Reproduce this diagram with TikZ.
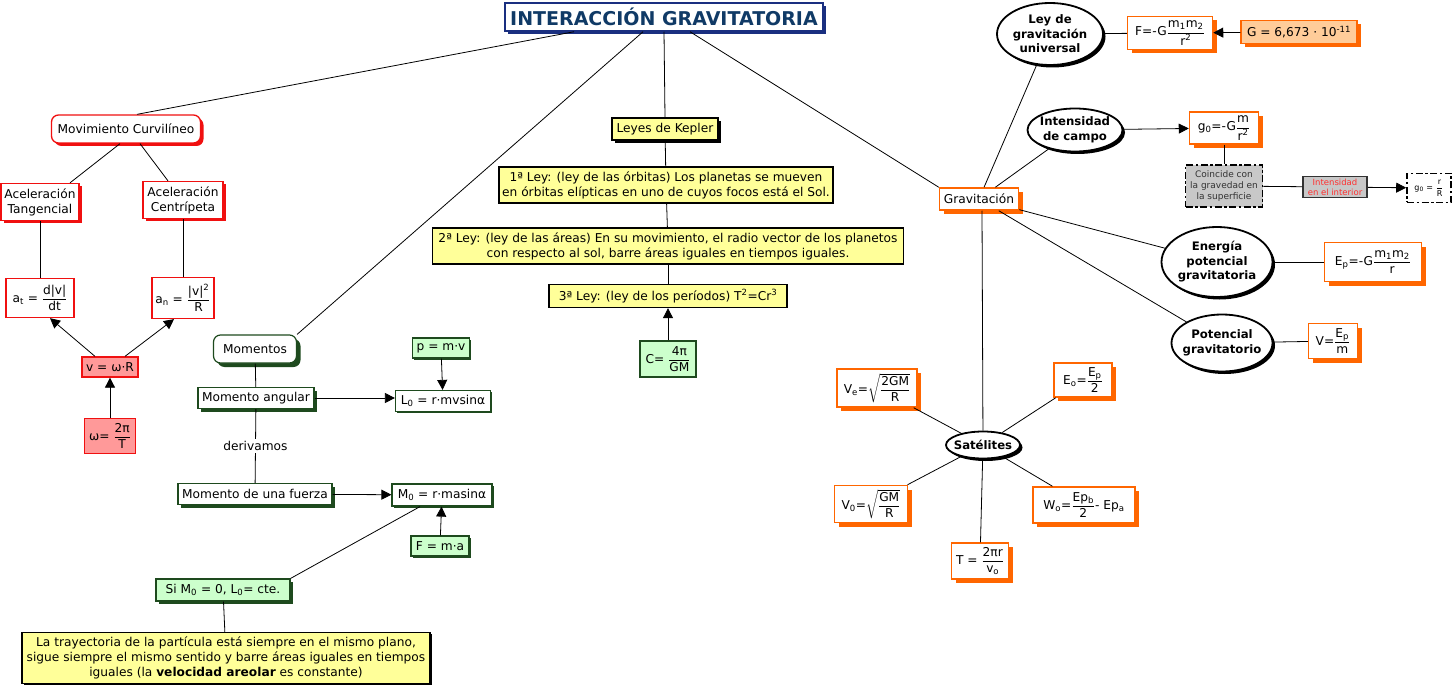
\documentclass[tikz,border=0pt]{standalone}
\usepackage{amsmath}
\usepackage{fontspec}
\setmainfont{DejaVu Sans}
\usetikzlibrary{shapes.geometric,shadows,arrows.meta}
\definecolor{cred}{HTML}{F01010}
\definecolor{cpink}{HTML}{FF9999}
\definecolor{cdgreen}{HTML}{1E4A1E}
\definecolor{clgreen}{HTML}{CCFFCC}
\definecolor{cyellow}{HTML}{FFFF99}
\definecolor{corange}{HTML}{FF6600}
\definecolor{clorange}{HTML}{FFCC99}
\definecolor{cnavy}{HTML}{1A2F80}
\definecolor{ctitle}{HTML}{103A66}
\definecolor{cgray}{HTML}{C8C8C8}
\definecolor{ctxtgray}{HTML}{333333}
\definecolor{cred2}{HTML}{FF3030}
\newcommand{\fr}[2]{$\dfrac{\text{#1}}{\text{#2}}$}
\begin{document}
\begin{tikzpicture}[x=1pt,y=-1pt,
  every node/.style={font=\fontsize{12.2}{15}\selectfont, align=center, inner sep=1pt},
  conn/.style={line width=0.8pt, draw=black},
  arr/.style={conn, -{Triangle[length=10pt,width=10pt]}},
  shd/.style 2 args={drop shadow={shadow xshift=#2,shadow yshift=-#2,fill=#1,opacity=1}},
  sz/.style 2 args={minimum width=#1pt,minimum height=#2pt},
  redbox/.style={draw=cred, line width=1.3pt, fill=white},
  pinkbox/.style={redbox, fill=cpink},
  grnbox/.style={draw=cdgreen, line width=1.2pt, fill=white},
  lgrnbox/.style={grnbox, fill=clgreen},
  ylwbox/.style={draw=black, line width=1.3pt, fill=cyellow},
  orbox/.style={draw=corange, line width=1.5pt, fill=white, shd={corange}{4pt}},
  ell/.style={ellipse, draw=black, line width=1.8pt, fill=white, inner sep=0pt, shd={black}{2.5pt}, font=\bfseries\fontsize{11.7}{14.5}\selectfont},
  dashdot/.style={draw=black, line width=1.6pt, dash pattern=on 7pt off 2.5pt on 2.5pt off 2.5pt}
]
\fill[white] (0,0) rectangle (1456,687);
\useasboundingbox (0,0) rectangle (1456,687);

% title
\node[draw=cnavy, line width=1.5pt, fill=white, shd={cnavy}{3pt}, sz={318}{28}, text=ctitle, font=\bfseries\fontsize{19}{22}\selectfont] (title) at (664,17) {INTERACCIÓN GRAVITATORIA};

% left: movimiento curvilineo
\node[redbox, shd={cred}{3pt}, rounded corners=7pt, sz={149}{28}] (mc) at (126,129) {Movimiento Curvilíneo};
\node[redbox, shd={cred}{3pt}, sz={78}{37}] (at) at (40,202) {Aceleración\\Tangencial};
\node[redbox, shd={cred}{3pt}, sz={80}{37}] (ac) at (183,200) {Aceleración\\Centrípeta};
\node[redbox, sz={68}{39}] (atf) at (40,298) {a\textsubscript{t} = \fr{d|v|}{dt}};
\node[redbox, sz={62}{41}] (anf) at (183,298) {a\textsubscript{n} = \fr{|v|\textsuperscript{2}}{R}};
\node[pinkbox, sz={56}{20}] (v) at (110,367) {v = ω·R};
\node[pinkbox, sz={51}{35}] (om) at (110,436) {ω= \fr{2π}{T}};

% momentos
\node[grnbox, shd={cdgreen}{4pt}, rounded corners=7pt, sz={83}{28}] (mom) at (255,349) {Momentos};
\node[grnbox, shd={cdgreen}{3pt}, sz={116}{21}] (mang) at (256,398) {Momento angular};
\node[grnbox, shd={cdgreen}{1.5pt}, sz={95}{21}] (L0) at (443,401) {L\textsubscript{0} = r·mvsinα};
\node[lgrnbox, shd={cdgreen}{1.5pt}, sz={57}{20}] (p) at (441,348) {p = m·v};
\node[grnbox, shd={cdgreen}{3pt}, sz={154}{21}] (mfu) at (255,494) {Momento de una fuerza};
\node[grnbox, shd={cdgreen}{1.5pt}, sz={100}{22}] (M0) at (442,495) {M\textsubscript{0} = r·masinα};
\node[lgrnbox, shd={cdgreen}{1.5pt}, sz={58}{20}] (F) at (440,546) {F = m·a};
\node[lgrnbox, shd={cdgreen}{3pt}, sz={134}{22}] (sim) at (223,590) {Si M\textsubscript{0} = 0, L\textsubscript{0}= cte.};
\node[ylwbox, shd={black}{1.5pt}, sz={408}{51}] (tray) at (226,658) {La trayectoria de la partícula está siempre en el mismo plano,\\sigue siempre el mismo sentido y barre áreas iguales en tiempos\\iguales (la \textbf{velocidad areolar} es constante)};

% kepler
\node[ylwbox, shd={black}{3pt}, sz={106}{22}] (kep) at (665,129) {Leyes de Kepler};
\node[ylwbox, sz={334}{36}] (l1) at (666,185) {1ª Ley: (ley de las órbitas) Los planetas se mueven\\en órbitas elípticas en uno de cuyos focos está el Sol.};
\node[ylwbox, sz={471}{36}] (l2) at (668,246) {2ª Ley: (ley de las áreas) En su movimiento, el radio vector de los planetos\\con respecto al sol, barre áreas iguales en tiempos iguales.};
\node[ylwbox, sz={238}{23}] (l3) at (668,296) {3ª Ley: (ley de los períodos) T\textsuperscript{2}=Cr\textsuperscript{3}};
\node[lgrnbox, line width=1.4pt, sz={56}{36}] (C) at (668,359) {C= \fr{4π}{GM}};

% right: gravitacion
\node[orbox, sz={79}{22}] (grav) at (979,199) {Gravitación};
\node[ell, minimum width=106pt, minimum height=62pt] (ley) at (1050,34) {Ley de\\gravitación\\universal};
\node[orbox, sz={85}{33}] (Fg) at (1170,33) {F=-G\fr{m\textsubscript{1}m\textsubscript{2}}{r\textsuperscript{2}}};
\node[orbox, fill=clorange, sz={116}{23}] (G) at (1299,32) {G = 6,673 · 10\textsuperscript{-11}};
\node[ell, inner xsep=-4pt, minimum width=95pt, minimum height=43pt] (int) at (1075,130) {Intensidad\\de campo};
\node[orbox, sz={69}{32}] (g0) at (1224,128) {g\textsubscript{0}=-G\fr{m}{r\textsuperscript{2}}};
\node[dashdot, fill=cgray, text=ctxtgray, font=\fontsize{9}{11}\selectfont, sz={77}{42}] (coin) at (1224,186) {Coincide con\\la gravedad en\\la superficie};
\node[draw=ctxtgray, line width=1.5pt, fill=cgray, text=cred2, font=\fontsize{8.5}{10}\selectfont, sz={64}{21}] (ii) at (1335,187) {Intensidad\\en el interior};
\node[dashdot, fill=white, font=\fontsize{8}{10}\selectfont, sz={44}{29}] (g0r) at (1429,188) {g\textsubscript{0} = \fr{r}{R}};
\node[ell, inner xsep=-1pt, minimum width=111pt, minimum height=70pt] (ene) at (1217,262) {Energía\\potencial\\gravitatoria};
\node[orbox, sz={97}{39}] (Ep) at (1373,262) {E\textsubscript{p}=-G\fr{m\textsubscript{1}m\textsubscript{2}}{r}};
\node[ell, inner xsep=-6pt, minimum width=101pt, minimum height=57pt] (pot) at (1222,343) {Potencial\\gravitatorio};
\node[orbox, sz={49}{35}] (Vp) at (1333,341) {V=\fr{E\textsubscript{p}}{m}};

% satelites
\node[ell, inner xsep=-10pt, minimum width=74pt, minimum height=27pt] (sat) at (983,445) {Satélites};
\node[orbox, sz={80}{38}] (Ve) at (877,388) {V\textsubscript{e}=$\sqrt{\dfrac{\text{2GM}}{\text{R}}}$};
\node[orbox, sz={58}{34}] (Eo) at (1083,380) {E\textsubscript{o}=\fr{E\textsubscript{p}}{2}};
\node[orbox, sz={73}{37}] (V0) at (871,504) {V\textsubscript{0}=$\sqrt{\dfrac{\text{GM}}{\text{R}}}$};
\node[orbox, sz={102}{36}] (W) at (1084,505) {W\textsubscript{o}=\fr{Ep\textsubscript{b}}{2}- Ep\textsubscript{a}};
\node[orbox, sz={57}{36}] (T) at (980,561) {T = \fr{2πr}{v\textsubscript{o}}};

% connectors from title
\draw[conn] ([xshift=-90pt]title.south) -- ([xshift=11pt]mc.north);
\draw[conn] ([xshift=-21pt]title.south) -- (mom.north east);
\draw[conn] (title.south) -- (kep.north);
\draw[conn] ([xshift=26pt]title.south) -- (grav.north west);

% left connectors
\draw[conn] ([xshift=-6pt]mc.south) -- ([xshift=30pt]at.north);
\draw[conn] ([xshift=14pt]mc.south) -- ([xshift=-15pt]ac.north);
\draw[conn] (at) -- (atf);
\draw[conn] (ac) -- (anf);
\draw[arr] ([xshift=-15pt]v.north) -- ([xshift=10pt]atf.south);
\draw[arr] ([xshift=15pt]v.north) -- ([xshift=-9pt]anf.south);
\draw[arr] (om) -- (v);

% momentos connectors
\draw[conn] (mom) -- (mang);
\draw[conn] (mang) -- node[fill=white, inner sep=2pt] (der) {derivamos} (mfu);
\draw[arr] (mang) -- (mang -| L0.west);
\draw[arr] (p) -- (L0);
\draw[arr] (mfu) -- (M0);
\draw[arr] (F) -- (M0);
\draw[conn] ([xshift=-22pt]M0.south) -- (sim.north east);
\draw[conn] (sim) -- (tray);

% kepler connectors
\draw[conn] (kep) -- (l1);
\draw[conn] (l1) -- (l2);
\draw[conn] (l2) -- (l3);
\draw[arr] (C) -- (l3);

% gravitacion connectors
\draw[conn] (grav) -- (ley);
\draw[conn] (grav) -- (int);
\draw[conn] (grav) -- (ene);
\draw[conn] (grav) -- (pot);
\draw[conn] ([xshift=3pt]grav.south) -- (sat);
\draw[conn] (ley) -- (Fg);
\draw[arr] (G) -- (Fg);
\draw[arr] (int) -- (g0);
\draw[conn] (g0) -- (coin);
\draw[conn] (coin) -- (ii);
\draw[arr] (ii) -- (g0r);
\draw[conn] (ene) -- (Ep);
\draw[conn] (pot) -- (Vp);

% satelites connectors
\draw[conn] (sat) -- (Ve);
\draw[conn] (sat) -- (Eo);
\draw[conn] (sat) -- (V0);
\draw[conn] (sat) -- (W);
\draw[conn] (sat) -- (T);
\end{tikzpicture}
\end{document}
